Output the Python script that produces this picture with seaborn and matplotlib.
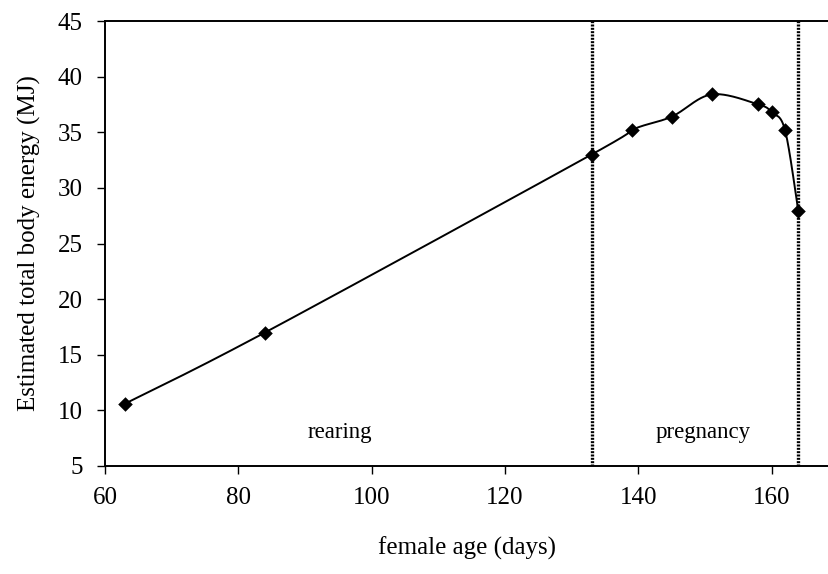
import numpy as np
import pandas as pd
import matplotlib
matplotlib.use("Agg")
import matplotlib.pyplot as plt
import seaborn as sns

age_days = [63, 84, 133, 139, 145, 151, 158, 160, 162, 164]
body_energy = [10.6, 17.0, 33.0, 35.2, 36.4, 38.4, 37.5, 36.8, 35.2, 27.9]
phase_bounds = [133, 164]
phase_labels = ["rearing", "pregnancy"]
phase_label_x = [95.2, 149.7]
phase_label_y = 8.05
x_ticks = [60, 80, 100, 120, 140, 160]
y_ticks = [5, 10, 15, 20, 25, 30, 35, 40, 45]

sns.set_theme(style="white")
plt.rcParams["font.family"] = ["Liberation Serif", "DejaVu Serif"]

def smooth_curve(xs, ys, n=40):
    # Bezier smoothing through the points (spreadsheet-style smoothed line)
    P = np.column_stack([xs, ys]).astype(float)
    out = []
    m = len(P)
    for i in range(m - 1):
        p0 = P[i - 1] if i > 0 else P[i]
        p1 = P[i]
        p2 = P[i + 1]
        p3 = P[i + 2] if i + 2 < m else P[i + 1]
        c1 = p1 + (p2 - p0) / 6.0
        c2 = p2 - (p3 - p1) / 6.0
        t = np.linspace(0, 1, n)[:, None]
        seg = ((1 - t) ** 3) * p1 + 3 * ((1 - t) ** 2) * t * c1 + 3 * (1 - t) * t ** 2 * c2 + t ** 3 * p2
        if i > 0:
            seg = seg[1:]
        out.append(seg)
    return np.vstack(out)

curve = smooth_curve(age_days, body_energy)
curve_df = pd.DataFrame({"x": curve[:, 0], "y": curve[:, 1], "o": np.arange(len(curve))})
pts_df = pd.DataFrame({"age": age_days, "energy": body_energy})

fig = plt.figure(figsize=(8.29, 5.74), dpi=100)
ax = fig.add_axes([105 / 829, 1 - 466 / 574, 1 - 105 / 829, (466 - 21) / 574])

sns.lineplot(data=curve_df, x="x", y="y", sort=False, color="black", lw=1.4, ax=ax, estimator=None)
sns.scatterplot(data=pts_df, x="age", y="energy", marker="D", s=55, color="black",
                edgecolor="black", linewidth=0, ax=ax, zorder=5)

for b in phase_bounds:
    ax.axvline(b, color="black", lw=2.4, linestyle=(0, (0.6, 0.4)), zorder=3)

for lx, lab in zip(phase_label_x, phase_labels):
    ax.text(lx, phase_label_y, lab, ha="center", va="center", fontsize=16.5, color="black")

ax.set_xlim(60, 168.6)
ax.set_ylim(5, 45)
ax.set_xticks(x_ticks)
ax.set_yticks(y_ticks)
ax.tick_params(axis="both", direction="out", length=6, width=1, color="black",
               labelsize=18, labelcolor="black", bottom=True, left=True, pad=10)
ax.tick_params(axis="x", pad=9)
for s in ["left", "bottom", "top"]:
    ax.spines[s].set_visible(True)
    ax.spines[s].set_color("black")
    ax.spines[s].set_linewidth(1.4)
ax.spines["right"].set_visible(False)
ax.grid(False)
ax.set_xlabel("female age (days)", fontsize=18, color="black", labelpad=20)
ax.set_ylabel("Estimated total body energy (MJ)", fontsize=18, color="black", labelpad=12)

fig.savefig("out.png", dpi=100)
